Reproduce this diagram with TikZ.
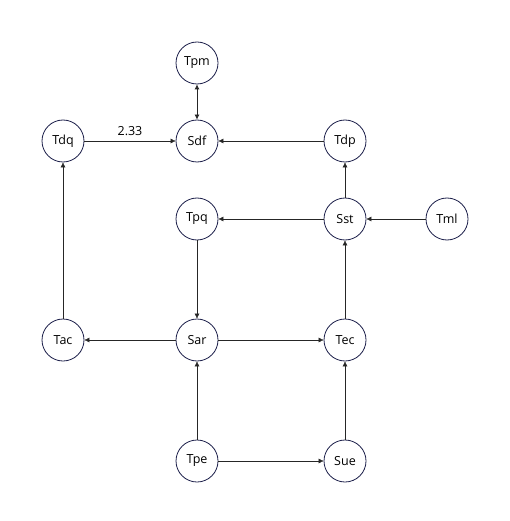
\documentclass[tikz,border=0pt]{standalone}
\usepackage{fontspec}
\setmainfont{Open Sans}
\usepackage{tikz}
\usetikzlibrary{
    arrows.meta,
    calc
}
\definecolor{ringnavy}{HTML}{1C1F4A}
\tikzset
{
  state/.style={draw=ringnavy,thick,circle,minimum size=42pt,inner sep=0pt,font=\fontsize{12.5}{14}\selectfont},
  flow/.style={draw=black!85,-{Latex[length=5pt,width=5pt]}},
  biflow/.style={draw=black!85,{Latex[length=5pt,width=5pt]}-{Latex[length=5pt,width=5pt]},thick}
}

\begin{document}
\begin{tikzpicture}[x=1pt,y=-1pt]

    % Fix the canvas
    \useasboundingbox (0,0) rectangle (510,521);

    % Top row
    \node[state] (Tpm) at (197,63) {Tpm};
    \node[state] (Tdq) at (63,141) {Tdq};
    \node[state] (Sdf) at (197,141) {Sdf};
    \node[state] (Tdp) at (345,141) {Tdp};

    % Middle rows
    \node[state] (Tpq) at (197,219) {Tpq};
    \node[state] (Sst) at (345,219) {Sst};
    \node[state] (Tml) at (447,219) {Tml};
    \node[state] (Tac) at (63,340) {Tac};
    \node[state] (Sar) at (197,340) {Sar};
    \node[state] (Tec) at (345,340) {Tec};

    % Bottom row
    \node[state] (Tpe) at (197,461) {Tpe};
    \node[state] (Sue) at (345,461) {Sue};

    % Connections into Sdf
    \draw[biflow] (Tpm) -- (Sdf);
    \draw[flow] (Tdq) -- node[above=2pt, font=\fontsize{12.5}{14}\selectfont] {2.33} (Sdf);
    \draw[flow] (Tdp) -- (Sdf);

    % Right column upwards
    \draw[flow] (Sst) -- (Tdp);
    \draw[flow] (Tml) -- (Sst);
    \draw[flow] (Sst) -- (Tpq);
    \draw[flow] (Tec) -- (Sst);
    \draw[flow] (Sue) -- (Tec);

    % Centre column
    \draw[flow] (Tpq) -- (Sar);
    \draw[flow] (Tpe) -- (Sar);
    \draw[flow] (Sar) -- (Tac);
    \draw[flow] (Sar) -- (Tec);
    \draw[flow] (Tpe) -- (Sue);

    % Left column
    \draw[flow] (Tac) -- (Tdq);

\end{tikzpicture}
\end{document}
